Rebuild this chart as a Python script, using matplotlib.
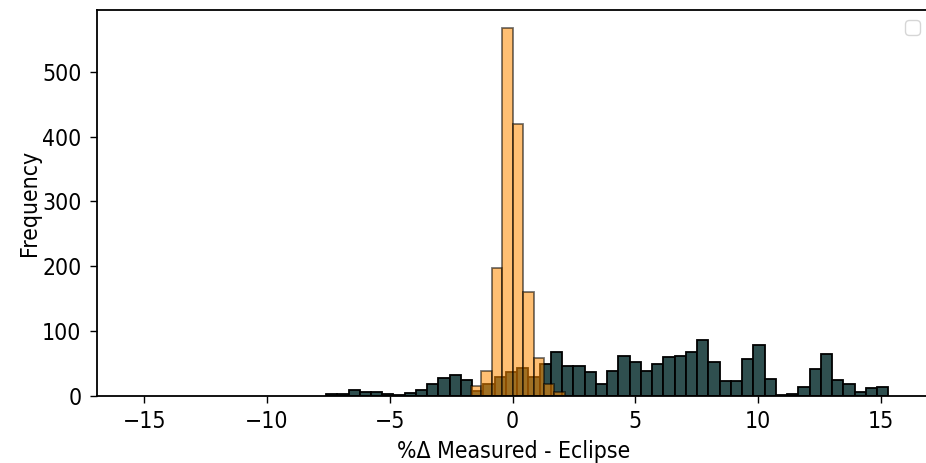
import numpy as np
import matplotlib
matplotlib.use('Agg')
import matplotlib.pyplot as plt

# histogram of % difference, two groups (counts)
dark_range = (-7.6, 15.3)
dark_counts = [3, 3, 9, 6, 6, 3, 1, 4, 9, 19,
               28, 33, 24, 7, 19, 30, 37, 43, 30, 50,
               68, 47, 47, 37, 19, 38, 61, 53, 39, 49,
               60, 61, 68, 86, 52, 23, 23, 57, 78, 26,
               1, 3, 14, 41, 65, 24, 19, 6, 12, 14]

orange_range = (-1.707, 2.13)
orange_counts = [15, 38, 198, 567, 420, 160, 58, 19, 6]

plt.rcParams['font.family'] = ['DejaVu Sans']
plt.rcParams['font.stretch'] = 'condensed'

fig = plt.figure(figsize=(9.26, 4.63), dpi=100, facecolor='white')
ax = fig.add_axes([0.1044, 0.1447, 0.90, 0.8337])

dark_edges = np.linspace(dark_range[0], dark_range[1], len(dark_counts) + 1)
orange_edges = np.linspace(orange_range[0], orange_range[1], len(orange_counts) + 1)

ax.bar(dark_edges[:-1], dark_counts, width=np.diff(dark_edges), align='edge',
       color='#2f4f4f', edgecolor='black', linewidth=1.3)
ax.bar(orange_edges[:-1], orange_counts, width=np.diff(orange_edges), align='edge',
       color='darkorange', edgecolor='black', linewidth=1.3, alpha=0.55)

ax.set_xlim(-16.94, 17)
ax.set_xticks([-15, -10, -5, 0, 5, 10, 15])
ax.set_yticks([0, 100, 200, 300, 400, 500])
ax.tick_params(axis='both', labelsize=16.5, length=5, width=1)
ax.tick_params(axis='y', pad=6)
ax.tick_params(axis='x', pad=5)
for s in ax.spines.values():
    s.set_linewidth(1.3)

ax.set_xlabel('%Δ Measured - Eclipse', fontsize=16.5, labelpad=5)
ax.set_ylabel('Frequency', fontsize=16.5)
ax.yaxis.set_label_coords(-0.067, 0.5)
ax.legend(handles=[], loc='upper right', fontsize=14)

fig.savefig('out.png', dpi=100, facecolor='white')
